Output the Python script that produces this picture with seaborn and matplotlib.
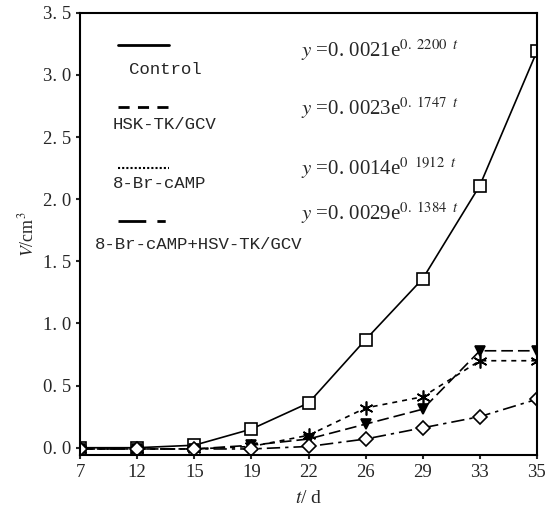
import matplotlib
matplotlib.use("Agg")
import matplotlib.pyplot as plt
import seaborn as sns
from matplotlib.lines import Line2D

# days (plotted as evenly spaced categories)
days = [7, 12, 15, 19, 22, 26, 29, 33, 35]
day_labels = [str(d) for d in days]

control = [0.0, 0.0, 0.02, 0.15, 0.36, 0.87, 1.36, 2.11, 3.19]
hsk_tk_gcv = [-0.01, -0.01, -0.01, 0.02, 0.07, 0.19, 0.31, 0.78, 0.78]
br_camp = [-0.01, -0.01, -0.01, 0.01, 0.10, 0.32, 0.41, 0.70, 0.70]
combined = [-0.01, -0.01, -0.01, -0.01, 0.01, 0.07, 0.16, 0.25, 0.39]

series_names = ["Control", "HSK-TK/GCV", "8-Br-cAMP", "8-Br-cAMP+HSV-TK/GCV"]
equations = [r"$y$ =0. 0021e$^{0.\ 2200\ \ t}$",
             r"$y$ =0. 0023e$^{0.\ 1747\ \ t}$",
             r"$y$ =0. 0014e$^{0\ \ 1912\ \ t}$",
             r"$y$ =0. 0029e$^{0.\ 1384\ \ t}$"]

y_ticks = [0.0, 0.5, 1.0, 1.5, 2.0, 2.5, 3.0, 3.5]
y_tick_labels = ["0. 0", "0. 5", "1. 0", "1. 5", "2. 0", "2. 5", "3. 0", "3. 5"]

sns.set_style("white")
plt.rcParams["font.family"] = ["Liberation Serif", "DejaVu Serif"]
plt.rcParams["mathtext.fontset"] = "stix"

fig, ax = plt.subplots(figsize=(5.49, 5.12), dpi=100)
fig.subplots_adjust(left=0.146, right=0.978, top=0.975, bottom=0.111)

pos = list(range(len(days)))
styles = [
    dict(ls="-", marker="s", mfc="white", ms=8),
    dict(ls=(0, (7, 3)), marker="v", mfc="black", ms=7),
    dict(ls=(0, (3, 3)), marker=(6, 2, 0), mfc="black", ms=10),
    dict(ls=(0, (8, 3, 2, 3)), marker="D", mfc="white", ms=7),
]
legend_ls = ["-", (0, (4, 3)), (0, (1, 1)), (0, (10, 4, 3, 3, 3, 3))]

for vals, st in zip([control, hsk_tk_gcv, br_camp, combined], styles):
    sns.lineplot(x=pos, y=vals, ax=ax, color="black", lw=1.2,
                 mec="black", mew=1.2, **st)

ax.set_xlim(0, len(days) - 1)
ax.set_ylim(-0.06, 3.5)
ax.set_xticks(pos)
ax.set_xticklabels(day_labels)
ax.set_yticks(y_ticks)
ax.set_yticklabels(y_tick_labels)
ax.tick_params(axis="both", labelsize=13.5, length=3, width=1.5,
               direction="out", left=True, bottom=True)
for sp in ax.spines.values():
    sp.set_color("black")
    sp.set_linewidth(1.5)

ax.set_xlabel(r"$t$/ d", fontsize=14, labelpad=6)
ax.set_ylabel(r"$V$/cm$^3$", fontsize=13, labelpad=4)

# legend drawn as handle above label
sample_y = [0.928, 0.787, 0.649, 0.529]
label_xy = [(0.108, 0.871), (0.071, 0.747), (0.071, 0.613), (0.032, 0.477)]
for name, ls, sy, (lx, ly) in zip(series_names, legend_ls, sample_y, label_xy):
    ax.add_line(Line2D([0.082, 0.195], [sy, sy], transform=ax.transAxes,
                       color="black", lw=2 if ls != (0, (1, 1)) else 1.5, ls=ls))
    ax.text(lx, ly, name, transform=ax.transAxes, fontsize=12.5,
            family=["Liberation Mono", "DejaVu Sans Mono"], va="center")

eq_y = [0.916, 0.785, 0.649, 0.548]
for eq, ey in zip(equations, eq_y):
    ax.text(0.483, ey, eq, transform=ax.transAxes, fontsize=15, va="center")

fig.savefig("out.png", dpi=100)
